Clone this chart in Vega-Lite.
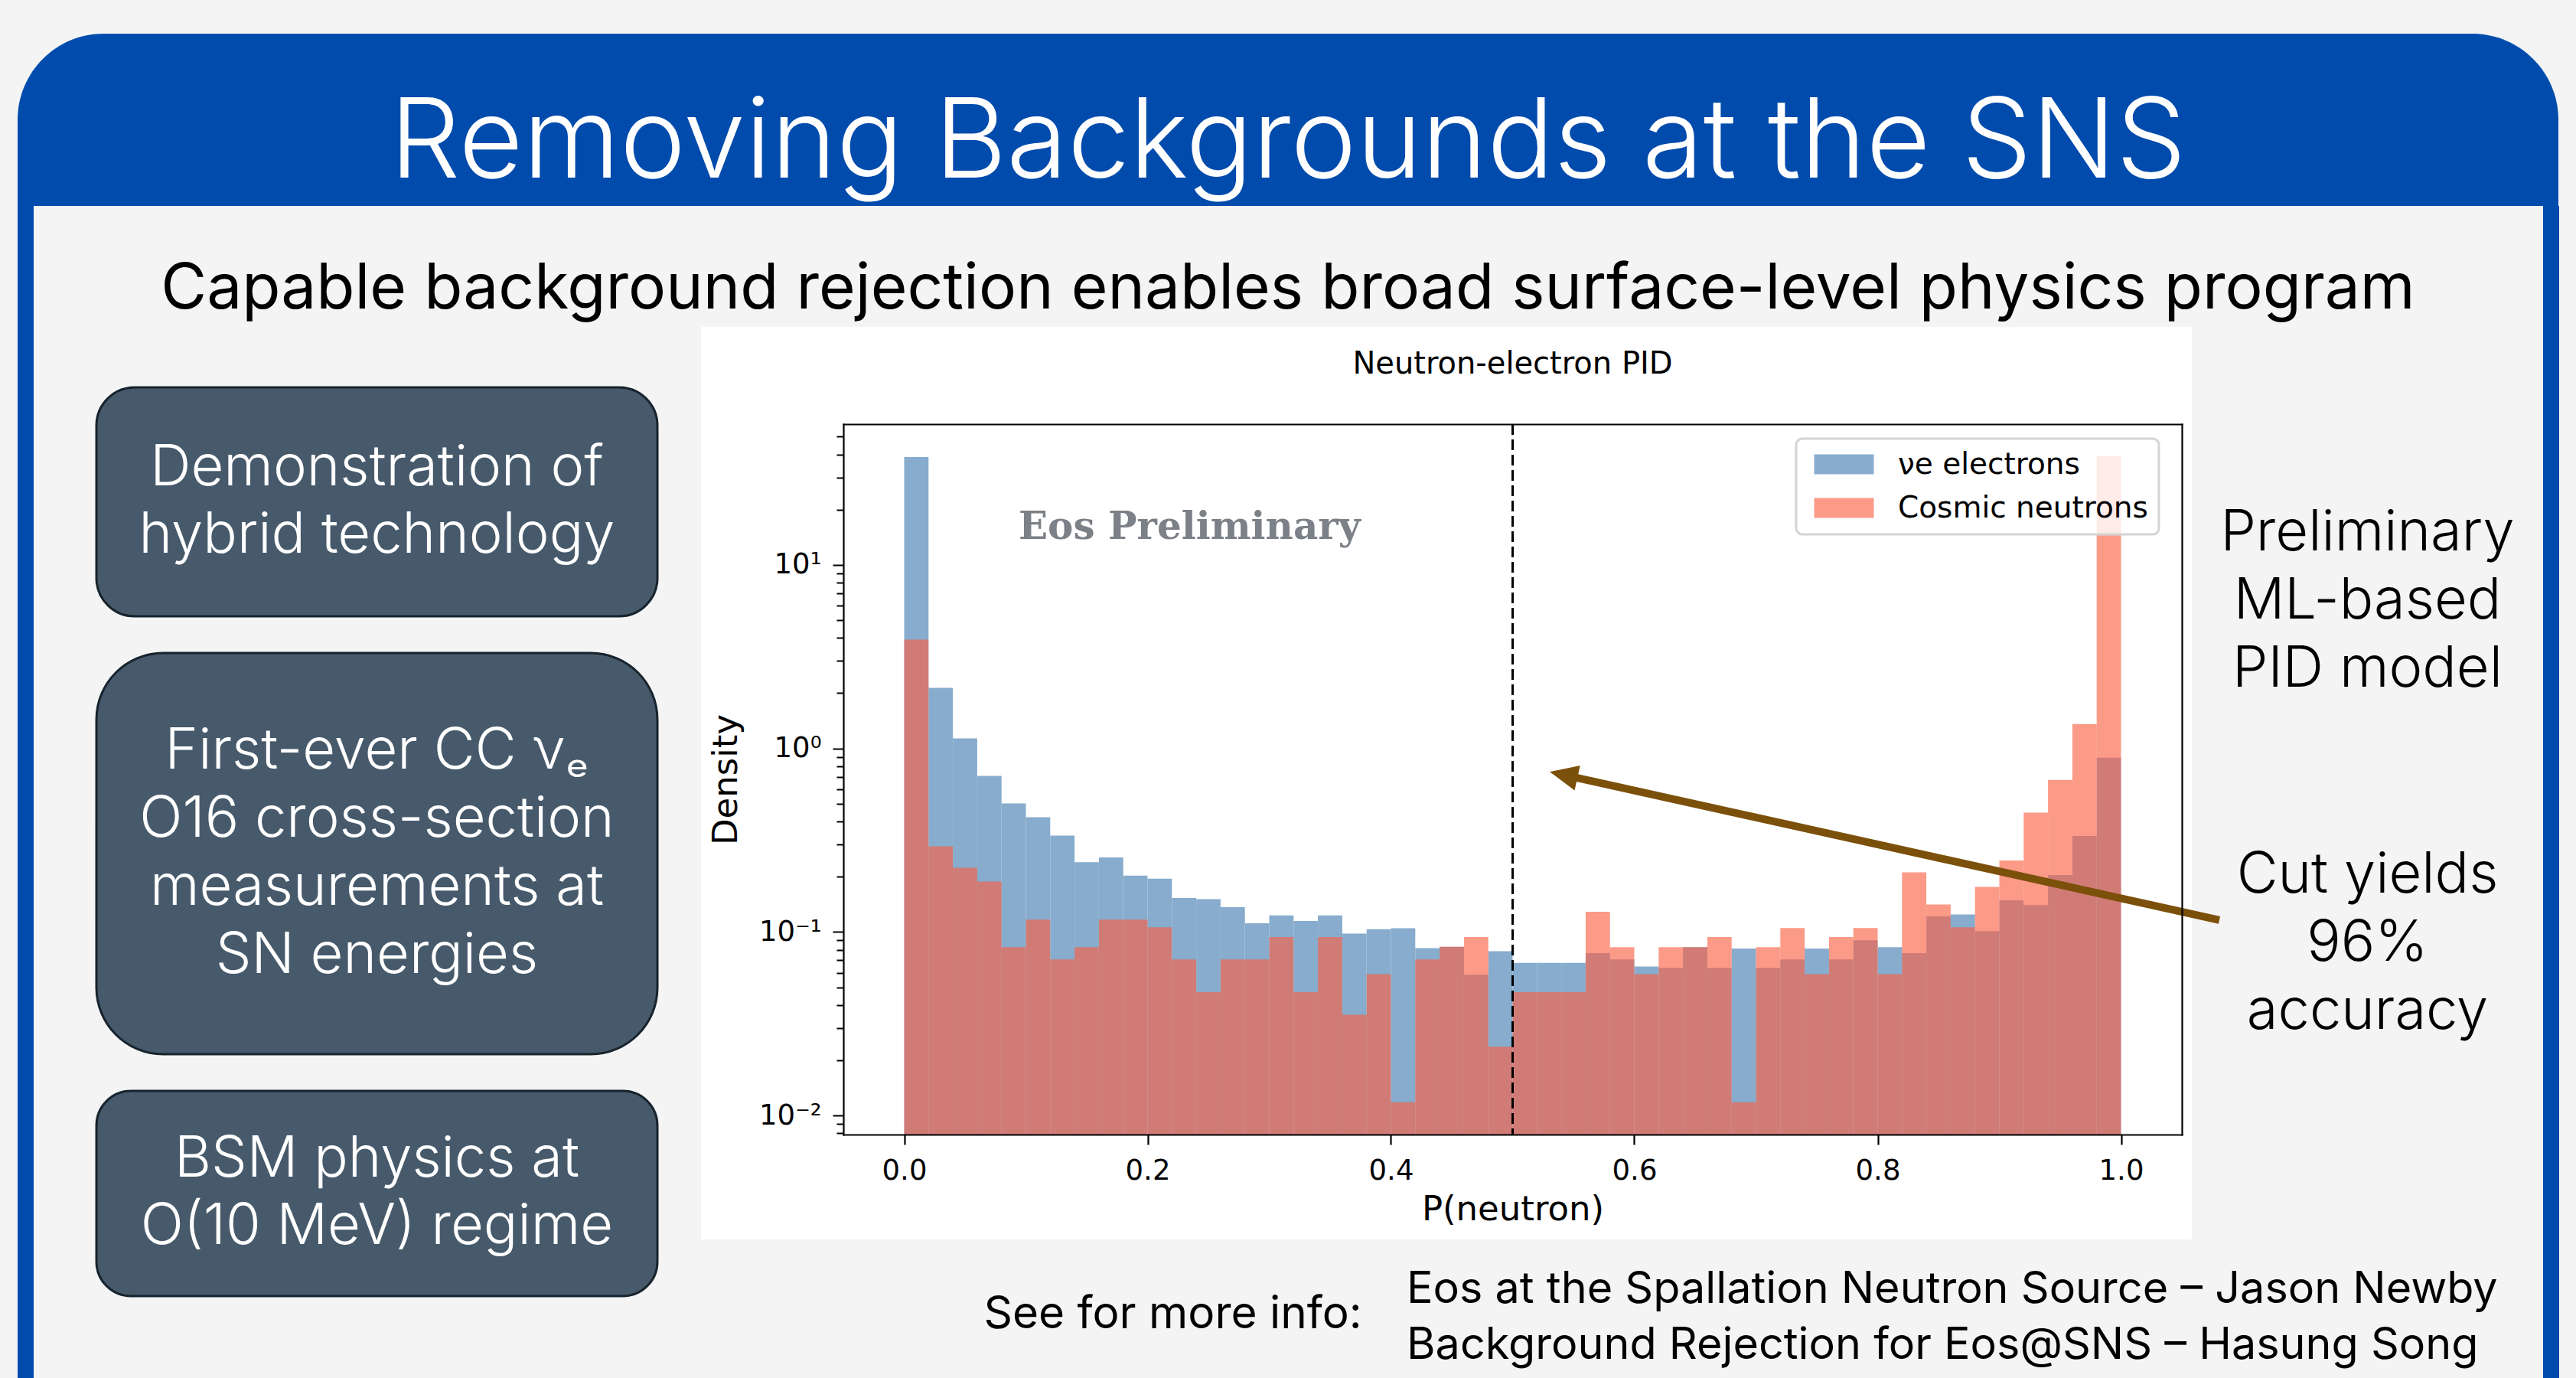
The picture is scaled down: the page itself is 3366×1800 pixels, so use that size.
{
  "$schema": "https://vega.github.io/schema/vega-lite/v6.json",
  "background": "#f4f4f4",
  "padding": {"left": 23, "top": 44, "right": 23, "bottom": 0},
  "config": {
    "view": {"stroke": null},
    "concat": {"spacing": 0},
    "legend": {"strokeWidth": 3}
  },
  "datasets": {
    "hist": [
      {"series": "νe electrons", "lo": 0.00, "hi": 0.02, "density": 38.7},
      {"series": "νe electrons", "lo": 0.02, "hi": 0.04, "density": 2.14},
      {"series": "νe electrons", "lo": 0.04, "hi": 0.06, "density": 1.135},
      {"series": "νe electrons", "lo": 0.06, "hi": 0.08, "density": 0.708},
      {"series": "νe electrons", "lo": 0.08, "hi": 0.10, "density": 0.501},
      {"series": "νe electrons", "lo": 0.10, "hi": 0.12, "density": 0.422},
      {"series": "νe electrons", "lo": 0.12, "hi": 0.14, "density": 0.335},
      {"series": "νe electrons", "lo": 0.14, "hi": 0.16, "density": 0.240},
      {"series": "νe electrons", "lo": 0.16, "hi": 0.18, "density": 0.255},
      {"series": "νe electrons", "lo": 0.18, "hi": 0.20, "density": 0.203},
      {"series": "νe electrons", "lo": 0.20, "hi": 0.22, "density": 0.195},
      {"series": "νe electrons", "lo": 0.22, "hi": 0.24, "density": 0.153},
      {"series": "νe electrons", "lo": 0.24, "hi": 0.26, "density": 0.151},
      {"series": "νe electrons", "lo": 0.26, "hi": 0.28, "density": 0.1365},
      {"series": "νe electrons", "lo": 0.28, "hi": 0.30, "density": 0.1114},
      {"series": "νe electrons", "lo": 0.30, "hi": 0.32, "density": 0.123},
      {"series": "νe electrons", "lo": 0.32, "hi": 0.34, "density": 0.1148},
      {"series": "νe electrons", "lo": 0.34, "hi": 0.36, "density": 0.123},
      {"series": "νe electrons", "lo": 0.36, "hi": 0.38, "density": 0.098},
      {"series": "νe electrons", "lo": 0.38, "hi": 0.40, "density": 0.1035},
      {"series": "νe electrons", "lo": 0.40, "hi": 0.42, "density": 0.1047},
      {"series": "νe electrons", "lo": 0.42, "hi": 0.44, "density": 0.0817},
      {"series": "νe electrons", "lo": 0.44, "hi": 0.46, "density": 0.083},
      {"series": "νe electrons", "lo": 0.46, "hi": 0.48, "density": 0.0585},
      {"series": "νe electrons", "lo": 0.48, "hi": 0.50, "density": 0.0785},
      {"series": "νe electrons", "lo": 0.50, "hi": 0.52, "density": 0.0679},
      {"series": "νe electrons", "lo": 0.52, "hi": 0.54, "density": 0.0679},
      {"series": "νe electrons", "lo": 0.54, "hi": 0.56, "density": 0.0679},
      {"series": "νe electrons", "lo": 0.56, "hi": 0.58, "density": 0.0767},
      {"series": "νe electrons", "lo": 0.58, "hi": 0.60, "density": 0.0708},
      {"series": "νe electrons", "lo": 0.60, "hi": 0.62, "density": 0.0648},
      {"series": "νe electrons", "lo": 0.62, "hi": 0.64, "density": 0.0638},
      {"series": "νe electrons", "lo": 0.64, "hi": 0.66, "density": 0.0826},
      {"series": "νe electrons", "lo": 0.66, "hi": 0.68, "density": 0.0638},
      {"series": "νe electrons", "lo": 0.68, "hi": 0.70, "density": 0.0812},
      {"series": "νe electrons", "lo": 0.70, "hi": 0.72, "density": 0.0638},
      {"series": "νe electrons", "lo": 0.72, "hi": 0.74, "density": 0.0708},
      {"series": "νe electrons", "lo": 0.74, "hi": 0.76, "density": 0.0812},
      {"series": "νe electrons", "lo": 0.76, "hi": 0.78, "density": 0.0708},
      {"series": "νe electrons", "lo": 0.78, "hi": 0.80, "density": 0.090},
      {"series": "νe electrons", "lo": 0.80, "hi": 0.82, "density": 0.0826},
      {"series": "νe electrons", "lo": 0.82, "hi": 0.84, "density": 0.0767},
      {"series": "νe electrons", "lo": 0.84, "hi": 0.86, "density": 0.1217},
      {"series": "νe electrons", "lo": 0.86, "hi": 0.88, "density": 0.1244},
      {"series": "νe electrons", "lo": 0.88, "hi": 0.90, "density": 0.101},
      {"series": "νe electrons", "lo": 0.90, "hi": 0.92, "density": 0.1486},
      {"series": "νe electrons", "lo": 0.92, "hi": 0.94, "density": 0.140},
      {"series": "νe electrons", "lo": 0.94, "hi": 0.96, "density": 0.204},
      {"series": "νe electrons", "lo": 0.96, "hi": 0.98, "density": 0.333},
      {"series": "νe electrons", "lo": 0.98, "hi": 1.00, "density": 0.891},
      {"series": "Cosmic neutrons", "lo": 0.00, "hi": 0.02, "density": 3.92},
      {"series": "Cosmic neutrons", "lo": 0.02, "hi": 0.04, "density": 0.293},
      {"series": "Cosmic neutrons", "lo": 0.04, "hi": 0.06, "density": 0.224},
      {"series": "Cosmic neutrons", "lo": 0.06, "hi": 0.08, "density": 0.188},
      {"series": "Cosmic neutrons", "lo": 0.08, "hi": 0.10, "density": 0.0826},
      {"series": "Cosmic neutrons", "lo": 0.10, "hi": 0.12, "density": 0.1167},
      {"series": "Cosmic neutrons", "lo": 0.12, "hi": 0.14, "density": 0.0708},
      {"series": "Cosmic neutrons", "lo": 0.14, "hi": 0.16, "density": 0.0826},
      {"series": "Cosmic neutrons", "lo": 0.16, "hi": 0.18, "density": 0.1167},
      {"series": "Cosmic neutrons", "lo": 0.18, "hi": 0.20, "density": 0.1167},
      {"series": "Cosmic neutrons", "lo": 0.20, "hi": 0.22, "density": 0.106},
      {"series": "Cosmic neutrons", "lo": 0.22, "hi": 0.24, "density": 0.0708},
      {"series": "Cosmic neutrons", "lo": 0.24, "hi": 0.26, "density": 0.047},
      {"series": "Cosmic neutrons", "lo": 0.26, "hi": 0.28, "density": 0.0708},
      {"series": "Cosmic neutrons", "lo": 0.28, "hi": 0.30, "density": 0.0708},
      {"series": "Cosmic neutrons", "lo": 0.30, "hi": 0.32, "density": 0.0938},
      {"series": "Cosmic neutrons", "lo": 0.32, "hi": 0.34, "density": 0.047},
      {"series": "Cosmic neutrons", "lo": 0.34, "hi": 0.36, "density": 0.0938},
      {"series": "Cosmic neutrons", "lo": 0.36, "hi": 0.38, "density": 0.0354},
      {"series": "Cosmic neutrons", "lo": 0.38, "hi": 0.40, "density": 0.0589},
      {"series": "Cosmic neutrons", "lo": 0.40, "hi": 0.42, "density": 0.0118},
      {"series": "Cosmic neutrons", "lo": 0.42, "hi": 0.44, "density": 0.0708},
      {"series": "Cosmic neutrons", "lo": 0.44, "hi": 0.46, "density": 0.083},
      {"series": "Cosmic neutrons", "lo": 0.46, "hi": 0.48, "density": 0.0938},
      {"series": "Cosmic neutrons", "lo": 0.48, "hi": 0.50, "density": 0.0237},
      {"series": "Cosmic neutrons", "lo": 0.50, "hi": 0.52, "density": 0.047},
      {"series": "Cosmic neutrons", "lo": 0.52, "hi": 0.54, "density": 0.047},
      {"series": "Cosmic neutrons", "lo": 0.54, "hi": 0.56, "density": 0.047},
      {"series": "Cosmic neutrons", "lo": 0.56, "hi": 0.58, "density": 0.1288},
      {"series": "Cosmic neutrons", "lo": 0.58, "hi": 0.60, "density": 0.0826},
      {"series": "Cosmic neutrons", "lo": 0.60, "hi": 0.62, "density": 0.0589},
      {"series": "Cosmic neutrons", "lo": 0.62, "hi": 0.64, "density": 0.0826},
      {"series": "Cosmic neutrons", "lo": 0.64, "hi": 0.66, "density": 0.0826},
      {"series": "Cosmic neutrons", "lo": 0.66, "hi": 0.68, "density": 0.0938},
      {"series": "Cosmic neutrons", "lo": 0.68, "hi": 0.70, "density": 0.0118},
      {"series": "Cosmic neutrons", "lo": 0.70, "hi": 0.72, "density": 0.0826},
      {"series": "Cosmic neutrons", "lo": 0.72, "hi": 0.74, "density": 0.105},
      {"series": "Cosmic neutrons", "lo": 0.74, "hi": 0.76, "density": 0.0589},
      {"series": "Cosmic neutrons", "lo": 0.76, "hi": 0.78, "density": 0.0938},
      {"series": "Cosmic neutrons", "lo": 0.78, "hi": 0.80, "density": 0.105},
      {"series": "Cosmic neutrons", "lo": 0.80, "hi": 0.82, "density": 0.0589},
      {"series": "Cosmic neutrons", "lo": 0.82, "hi": 0.84, "density": 0.2114},
      {"series": "Cosmic neutrons", "lo": 0.84, "hi": 0.86, "density": 0.141},
      {"series": "Cosmic neutrons", "lo": 0.86, "hi": 0.88, "density": 0.106},
      {"series": "Cosmic neutrons", "lo": 0.88, "hi": 0.90, "density": 0.176},
      {"series": "Cosmic neutrons", "lo": 0.90, "hi": 0.92, "density": 0.245},
      {"series": "Cosmic neutrons", "lo": 0.92, "hi": 0.94, "density": 0.447},
      {"series": "Cosmic neutrons", "lo": 0.94, "hi": 0.96, "density": 0.673},
      {"series": "Cosmic neutrons", "lo": 0.96, "hi": 0.98, "density": 1.357},
      {"series": "Cosmic neutrons", "lo": 0.98, "hi": 1.00, "density": 39.2}
    ],
    "cut": [{"p": 0.5}],
    "notes": [{"label": "Eos Preliminary", "title": "Neutron-electron PID"}]
  },
  "spacing": 0,
  "bounds": "flush",
  "vconcat": [
    {
      "width": 3320,
      "height": 225,
      "data": {"values": [{"title": "Removing Backgrounds at the SNS"}]},
      "layer": [
        {"mark": {"type": "rect", "color": "#014bad", "cornerRadiusTopLeft": 135, "cornerRadiusTopRight": 135}, "encoding": {}},
        {"mark": {"type": "text", "color": "white", "font": "Inter", "fontWeight": 300, "fontSize": 145, "dy": 31}, "encoding": {"text": {"field": "title"}}}
      ]
    },
    {
      "spacing": 0,
      "bounds": "full",
      "hconcat": [
        {"width": 21, "height": 1531, "data": {"values": [{}]}, "mark": {"type": "rect", "color": "#014bad"}, "encoding": {}},
        {
          "spacing": 0,
          "bounds": "flush",
          "vconcat": [
            {
              "width": 3278,
              "height": 158,
              "data": {"values": [{"t": "Capable background rejection enables broad surface-level physics program"}]},
              "mark": {"type": "text", "font": "Inter", "fontSize": 82, "color": "black", "dy": 30},
              "encoding": {"text": {"field": "t"}}
            },
            {
              "spacing": 0,
              "bounds": "full",
              "hconcat": [
                {"width": 80, "height": 10, "data": {"values": []}, "mark": "text"},
                {
                  "spacing": 48,
                  "bounds": "flush",
                  "vconcat": [
                    {"width": 733, "height": 31, "data": {"values": []}, "mark": "text"},
                    {
                      "width": 733, "height": 299,
                      "view": {"fill": "#475a6b", "stroke": "#17232d", "strokeWidth": 3, "cornerRadius": 50},
                      "data": {"values": [{"t": "Demonstration of\nhybrid technology"}]},
                      "mark": {"type": "text", "font": "Inter", "fontWeight": 300, "fontSize": 74, "lineHeight": 88, "lineBreak": "\n", "color": "white", "dy": -44},
                      "encoding": {"text": {"field": "t"}}
                    },
                    {
                      "width": 733, "height": 524,
                      "view": {"fill": "#475a6b", "stroke": "#17232d", "strokeWidth": 3, "cornerRadius": 87},
                      "data": {"values": [{"t": "First-ever CC νₑ\nO16 cross-section\nmeasurements at\nSN energies"}]},
                      "mark": {"type": "text", "font": "Inter", "fontWeight": 300, "fontSize": 74, "lineHeight": 89, "lineBreak": "\n", "color": "white", "dy": -133.5},
                      "encoding": {"text": {"field": "t"}}
                    },
                    {
                      "width": 733, "height": 268,
                      "view": {"fill": "#475a6b", "stroke": "#17232d", "strokeWidth": 3, "cornerRadius": 45},
                      "data": {"values": [{"t": "BSM physics at\nO(10 MeV) regime"}]},
                      "mark": {"type": "text", "font": "Inter", "fontWeight": 300, "fontSize": 74, "lineHeight": 88, "lineBreak": "\n", "color": "white", "dy": -44},
                      "encoding": {"text": {"field": "t"}}
                    }
                  ]
                },
                {"width": 55, "height": 10, "data": {"values": []}, "mark": "text"},
                {
                  "spacing": 0,
                  "bounds": "full",
                  "vconcat": [
                    {
                      "spacing": 0,
                      "bounds": "flush",
                      "hconcat": [
                        {
                          "width": 1948,
                          "height": 1192,
                          "view": {"fill": "white", "stroke": null},
                          "resolve": {"axis": {"x": "independent", "y": "independent"}},
                          "layer": [
                            {
                              "data": {"name": "hist"},
                              "mark": {"type": "bar", "strokeWidth": 0},
                              "encoding": {
                                "x": {"field": "lo", "type": "quantitative",
                                  "scale": {"domain": [-0.05, 1.05], "range": [186, 1935], "nice": false, "zero": false},
                                  "axis": {"orient": "bottom", "offset": -137, "values": [0, 0.2, 0.4, 0.6, 0.8, 1.0], "format": ".1f",
                                    "tickSize": 13, "tickWidth": 2.2, "tickColor": "black",
                                    "labelFont": "DejaVu Sans", "labelFontSize": 37, "labelColor": "black", "labelPadding": 16, "labelFlush": false, "labelOverlap": false,
                                    "domain": true, "domainColor": "black", "domainWidth": 2.2, "domainCap": "square", "grid": false,
                                    "title": "P(neutron)", "titleFont": "DejaVu Sans", "titleFontSize": 45, "titleFontWeight": "normal", "titleColor": "black", "titlePadding": 10, "zindex": 2}},
                                "x2": {"field": "hi"},
                                "y": {"field": "density", "type": "quantitative",
                                  "scale": {"type": "log", "domain": [0.00787, 58.5], "range": [1055, 127], "nice": false},
                                  "axis": {"orient": "left", "offset": -186,
                                    "values": [0.008, 0.009, 0.01, 0.02, 0.03, 0.04, 0.05, 0.06, 0.07, 0.08, 0.09, 0.1, 0.2, 0.3, 0.4, 0.5, 0.6, 0.7, 0.8, 0.9, 1, 2, 3, 4, 5, 6, 7, 8, 9, 10, 20, 30, 40, 50],
                                    "labelExpr": "abs(log(datum.value)/LN10 - round(log(datum.value)/LN10)) < 0.0001 ? ['10⁻²','10⁻¹','10⁰','10¹'][round(log(datum.value)/LN10)+2] : ''",
                                    "tickSize": {"condition": {"test": "abs(log(datum.value)/LN10 - round(log(datum.value)/LN10)) < 0.0001", "value": 14}, "value": 9},
                                    "tickWidth": 2, "tickColor": "black",
                                    "labelFont": "DejaVu Sans", "labelFontSize": 37, "labelColor": "black", "labelPadding": 15, "labelOverlap": false, "labelFlush": false,
                                    "domain": true, "domainColor": "black", "domainWidth": 2.2, "domainCap": "square", "grid": false,
                                    "title": "Density", "titleFont": "DejaVu Sans", "titleFontSize": 45, "titleFontWeight": "normal", "titleColor": "black", "titlePadding": 20, "zindex": 2}},
                                "y2": {"datum": 0.00787},
                                "color": {"field": "series", "type": "nominal",
                                  "scale": {"domain": ["νe electrons", "Cosmic neutrons"], "range": ["#87accd", "rgba(250,95,66,0.63)"]},
                                  "legend": {"orient": "none", "legendX": 2324, "legendY": 529, "title": null,
                                    "labelFont": "DejaVu Sans", "labelFontSize": 39, "labelColor": "black", "labelLimit": 1000,
                                    "symbolType": "M-3,-1H3V1H-3Z", "symbolSize": 676, "symbolStrokeWidth": 0, "symbolOffset": 29, "labelOffset": 51,
                                    "rowPadding": 17, "padding": 14, "fillColor": "rgba(255,255,255,0.8)", "strokeColor": "#d4d4d4", "cornerRadius": 8}}
                              }
                            },
                            {
                              "data": {"name": "cut"},
                              "mark": {"type": "rule", "color": "black", "strokeWidth": 3, "strokeDash": [14, 6]},
                              "encoding": {
                                "x": {"field": "p", "type": "quantitative",
                                  "scale": {"domain": [-0.05, 1.05], "range": [186, 1935], "nice": false, "zero": false},
                                  "axis": {"orient": "top", "offset": -127, "ticks": false, "labels": false, "title": null, "grid": false,
                                    "domain": true, "domainColor": "black", "domainWidth": 2.2, "domainCap": "square", "zindex": 2}},
                                "y": {"datum": 58.5, "type": "quantitative",
                                  "scale": {"type": "log", "domain": [0.00787, 58.5], "range": [1055, 127], "nice": false},
                                  "axis": {"orient": "right", "offset": -13, "ticks": false, "labels": false, "title": null, "grid": false,
                                    "domain": true, "domainColor": "black", "domainWidth": 2.2, "domainCap": "square", "zindex": 2}},
                                "y2": {"datum": 0.00787}
                              }
                            },
                            {
                              "data": {"name": "notes"},
                              "mark": {"type": "rule", "color": "#7b500a", "strokeWidth": 10},
                              "encoding": {
                                "x": {"datum": 1.0808, "type": "quantitative", "scale": {"domain": [-0.05, 1.05], "range": [186, 1935], "nice": false, "zero": false}, "axis": null},
                                "x2": {"datum": 0.5489},
                                "y": {"datum": 0.116, "type": "quantitative", "scale": {"type": "log", "domain": [0.00787, 58.5], "range": [1055, 127], "nice": false}, "axis": null},
                                "y2": {"datum": 0.701}
                              }
                            },
                            {
                              "data": {"name": "notes"},
                              "mark": {"type": "point", "shape": "M0,0L2,-0.9L2,0.9Z", "filled": true, "size": 1369, "angle": 12.5, "color": "#7b500a", "opacity": 1, "strokeWidth": 0},
                              "encoding": {
                                "x": {"datum": 0.5305, "type": "quantitative", "scale": {"domain": [-0.05, 1.05], "range": [186, 1935], "nice": false, "zero": false}, "axis": null},
                                "y": {"datum": 0.746, "type": "quantitative", "scale": {"type": "log", "domain": [0.00787, 58.5], "range": [1055, 127], "nice": false}, "axis": null}
                              }
                            },
                            {
                              "data": {"name": "notes"},
                              "mark": {"type": "text", "font": "DejaVu Serif", "fontWeight": "bold", "fontSize": 50, "color": "#7c8087", "align": "center", "baseline": "alphabetic"},
                              "encoding": {
                                "x": {"datum": 0.2345, "type": "quantitative", "scale": {"domain": [-0.05, 1.05], "range": [186, 1935], "nice": false, "zero": false}, "axis": null},
                                "y": {"datum": 13.9, "type": "quantitative", "scale": {"type": "log", "domain": [0.00787, 58.5], "range": [1055, 127], "nice": false}, "axis": null},
                                "text": {"field": "label"}
                              }
                            },
                            {
                              "data": {"name": "notes"},
                              "mark": {"type": "text", "font": "DejaVu Sans", "fontSize": 40, "color": "black", "align": "center", "baseline": "alphabetic"},
                              "encoding": {
                                "x": {"datum": 0.5, "type": "quantitative", "scale": {"domain": [-0.05, 1.05], "range": [186, 1935], "nice": false, "zero": false}, "axis": null},
                                "y": {"datum": 110.4, "type": "quantitative", "scale": {"type": "log", "domain": [0.00787, 58.5], "range": [1055, 127], "nice": false}, "axis": null},
                                "text": {"field": "title"}
                              }
                            }
                          ]
                        },
                        {
                          "spacing": 0,
                          "bounds": "flush",
                          "vconcat": [
                            {
                              "width": 459, "height": 718,
                              "data": {"values": [{"t": "Preliminary\nML-based\nPID model"}]},
                              "mark": {"type": "text", "font": "Inter", "fontWeight": 300, "fontSize": 74, "lineHeight": 89, "lineBreak": "\n", "color": "black", "dy": -89},
                              "encoding": {"text": {"field": "t"}}
                            },
                            {
                              "width": 459, "height": 175,
                              "data": {"values": [{"t": "Cut yields\n96%\naccuracy"}]},
                              "mark": {"type": "text", "font": "Inter", "fontWeight": 300, "fontSize": 74, "lineHeight": 89, "lineBreak": "\n", "color": "black", "dy": -89},
                              "encoding": {"text": {"field": "t"}}
                            }
                          ]
                        }
                      ]
                    },
                    {
                      "spacing": 0,
                      "bounds": "flush",
                      "hconcat": [
                        {"width": 365, "height": 10, "data": {"values": []}, "mark": "text"},
                        {
                          "width": 503, "height": 195,
                          "data": {"values": [{"t": "See for more info:"}]},
                          "mark": {"type": "text", "font": "Inter", "fontSize": 58.5, "color": "black"},
                          "encoding": {"text": {"field": "t"}}
                        },
                        {"width": 54, "height": 10, "data": {"values": []}, "mark": "text"},
                        {
                          "width": 1485, "height": 205,
                          "data": {"values": [{"t": "Eos at the Spallation Neutron Source – Jason Newby\nBackground Rejection for Eos@SNS – Hasung Song"}]},
                          "mark": {"type": "text", "font": "Inter", "fontSize": 57.5, "lineHeight": 73, "lineBreak": "\n", "align": "left", "color": "black", "dy": -36.5},
                          "encoding": {
                            "x": {"datum": 0, "type": "quantitative", "scale": {"domain": [0, 1]}, "axis": null},
                            "text": {"field": "t"}
                          }
                        }
                      ]
                    }
                  ]
                }
              ]
            }
          ]
        },
        {"width": 21, "height": 1531, "data": {"values": [{}]}, "mark": {"type": "rect", "color": "#014bad"}, "encoding": {}}
      ]
    }
  ]
}
